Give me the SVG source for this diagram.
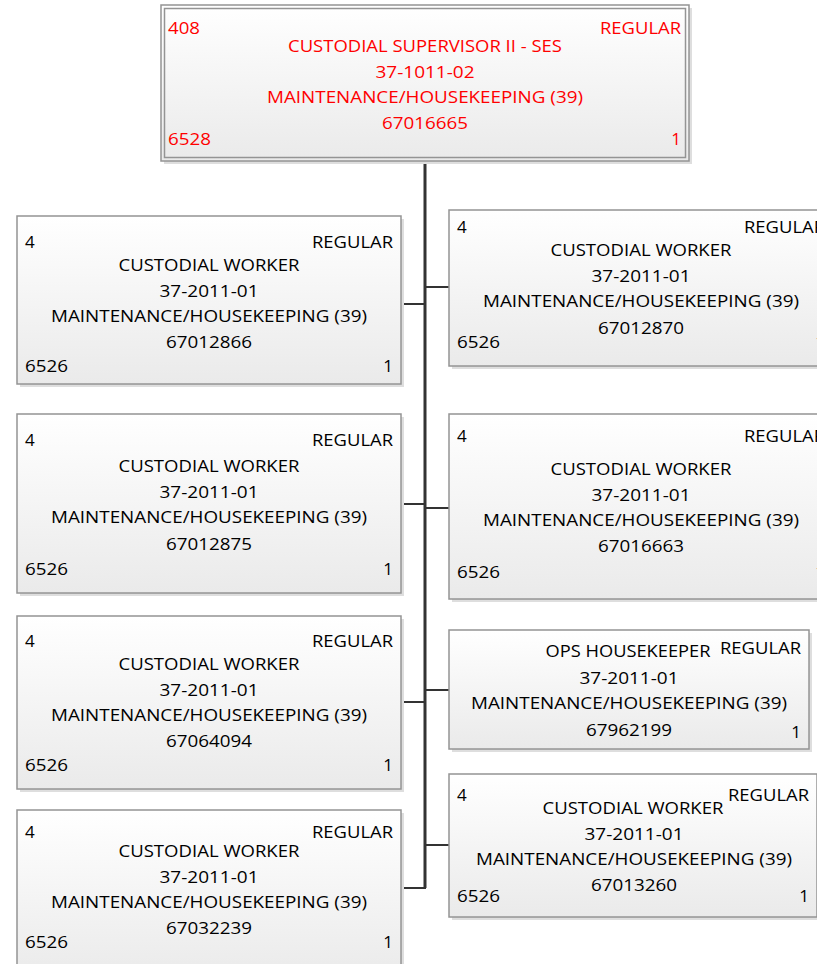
<svg xmlns="http://www.w3.org/2000/svg" width="817" height="964" viewBox="0 0 817 964">
  <defs>
    <linearGradient id="boxFill" x1="0" y1="0" x2="0" y2="1">
      <stop offset="0" stop-color="#ffffff"/>
      <stop offset="1" stop-color="#eaeaea"/>
    </linearGradient>
  </defs>
  <style>
    .shadow { fill: #dedede; }
    .box { fill: url(#boxFill); stroke: #949494; stroke-width: 1.5; }
    .inner { fill: none; stroke: #949494; stroke-width: 1.5; }
    .t { font-family: "Open Sans", "Liberation Sans", sans-serif; font-size: 17px; fill: #000; }
    .c { text-anchor: middle; }
    .r { text-anchor: end; }
    .red { fill: #ff0000; }
    .trunk { stroke: #333; stroke-width: 3; fill: none; }
    .branch { stroke: #333; stroke-width: 2; fill: none; }
  </style>

  <!-- connectors -->
  <g id="connectors">
    <path class="trunk" d="M425 161 V888"/>
    <path class="branch" d="M401 304 H425"/>
    <path class="branch" d="M401 504 H425"/>
    <path class="branch" d="M401 702 H425"/>
    <path class="branch" d="M401 888 H426"/>
    <path class="branch" d="M425 287 H449"/>
    <path class="branch" d="M425 508 H449"/>
    <path class="branch" d="M425 690 H449"/>
    <path class="branch" d="M425 845 H449"/>
  </g>

  <!-- supervisor -->
  <g id="node-67016665">
    <rect class="shadow" x="164" y="8" width="528" height="156"/>
    <rect class="box" x="161" y="5" width="528" height="156"/>
    <rect class="inner" x="164.5" y="8.5" width="521" height="149"/>
    <text class="t red" x="168" y="34" textLength="32" lengthAdjust="spacingAndGlyphs">408</text>
    <text class="t red r" x="681" y="34" textLength="81" lengthAdjust="spacingAndGlyphs">REGULAR</text>
    <text class="t red c" x="425" y="52" textLength="274" lengthAdjust="spacingAndGlyphs">CUSTODIAL SUPERVISOR II - SES</text>
    <text class="t red c" x="425" y="78" textLength="99" lengthAdjust="spacingAndGlyphs">37-1011-02</text>
    <text class="t red c" x="425" y="103" textLength="316" lengthAdjust="spacingAndGlyphs">MAINTENANCE/HOUSEKEEPING (39)</text>
    <text class="t red c" x="425" y="129" textLength="86" lengthAdjust="spacingAndGlyphs">67016665</text>
    <text class="t red" x="168" y="145" textLength="43" lengthAdjust="spacingAndGlyphs">6528</text>
    <text class="t red r" x="681" y="145">1</text>
  </g>

  <!-- left column -->
  <g id="node-67012866">
    <rect class="shadow" x="20" y="219" width="384" height="168"/>
    <rect class="box" x="17" y="216" width="384" height="168"/>
    <text class="t" x="25" y="248">4</text>
    <text class="t r" x="393" y="248" textLength="81" lengthAdjust="spacingAndGlyphs">REGULAR</text>
    <text class="t c" x="209" y="271" textLength="181" lengthAdjust="spacingAndGlyphs">CUSTODIAL WORKER</text>
    <text class="t c" x="209" y="297" textLength="99" lengthAdjust="spacingAndGlyphs">37-2011-01</text>
    <text class="t c" x="209" y="322" textLength="316" lengthAdjust="spacingAndGlyphs">MAINTENANCE/HOUSEKEEPING (39)</text>
    <text class="t c" x="209" y="348" textLength="86" lengthAdjust="spacingAndGlyphs">67012866</text>
    <text class="t" x="25" y="372" textLength="43" lengthAdjust="spacingAndGlyphs">6526</text>
    <text class="t r" x="393" y="372">1</text>
  </g>

  <g id="node-67012875">
    <rect class="shadow" x="20" y="417" width="384" height="179"/>
    <rect class="box" x="17" y="414" width="384" height="179"/>
    <text class="t" x="25" y="446">4</text>
    <text class="t r" x="393" y="446" textLength="81" lengthAdjust="spacingAndGlyphs">REGULAR</text>
    <text class="t c" x="209" y="472" textLength="181" lengthAdjust="spacingAndGlyphs">CUSTODIAL WORKER</text>
    <text class="t c" x="209" y="498" textLength="99" lengthAdjust="spacingAndGlyphs">37-2011-01</text>
    <text class="t c" x="209" y="523" textLength="316" lengthAdjust="spacingAndGlyphs">MAINTENANCE/HOUSEKEEPING (39)</text>
    <text class="t c" x="209" y="550" textLength="86" lengthAdjust="spacingAndGlyphs">67012875</text>
    <text class="t" x="25" y="575" textLength="43" lengthAdjust="spacingAndGlyphs">6526</text>
    <text class="t r" x="393" y="575">1</text>
  </g>

  <g id="node-67064094">
    <rect class="shadow" x="20" y="619" width="384" height="173"/>
    <rect class="box" x="17" y="616" width="384" height="173"/>
    <text class="t" x="25" y="647">4</text>
    <text class="t r" x="393" y="647" textLength="81" lengthAdjust="spacingAndGlyphs">REGULAR</text>
    <text class="t c" x="209" y="670" textLength="181" lengthAdjust="spacingAndGlyphs">CUSTODIAL WORKER</text>
    <text class="t c" x="209" y="696" textLength="99" lengthAdjust="spacingAndGlyphs">37-2011-01</text>
    <text class="t c" x="209" y="721" textLength="316" lengthAdjust="spacingAndGlyphs">MAINTENANCE/HOUSEKEEPING (39)</text>
    <text class="t c" x="209" y="747" textLength="86" lengthAdjust="spacingAndGlyphs">67064094</text>
    <text class="t" x="25" y="771" textLength="43" lengthAdjust="spacingAndGlyphs">6526</text>
    <text class="t r" x="393" y="771">1</text>
  </g>

  <g id="node-67032239">
    <rect class="shadow" x="20" y="813" width="384" height="170"/>
    <rect class="box" x="17" y="810" width="384" height="170"/>
    <text class="t" x="25" y="838">4</text>
    <text class="t r" x="393" y="838" textLength="81" lengthAdjust="spacingAndGlyphs">REGULAR</text>
    <text class="t c" x="209" y="857" textLength="181" lengthAdjust="spacingAndGlyphs">CUSTODIAL WORKER</text>
    <text class="t c" x="209" y="883" textLength="99" lengthAdjust="spacingAndGlyphs">37-2011-01</text>
    <text class="t c" x="209" y="908" textLength="316" lengthAdjust="spacingAndGlyphs">MAINTENANCE/HOUSEKEEPING (39)</text>
    <text class="t c" x="209" y="934" textLength="86" lengthAdjust="spacingAndGlyphs">67032239</text>
    <text class="t" x="25" y="948" textLength="43" lengthAdjust="spacingAndGlyphs">6526</text>
    <text class="t r" x="393" y="948">1</text>
  </g>

  <!-- right column -->
  <g id="node-67012870">
    <rect class="shadow" x="452" y="213" width="384" height="156"/>
    <rect class="box" x="449" y="210" width="384" height="156"/>
    <text class="t" x="457" y="233">4</text>
    <text class="t r" x="825" y="233" textLength="81" lengthAdjust="spacingAndGlyphs">REGULAR</text>
    <text class="t c" x="641" y="256" textLength="181" lengthAdjust="spacingAndGlyphs">CUSTODIAL WORKER</text>
    <text class="t c" x="641" y="282" textLength="99" lengthAdjust="spacingAndGlyphs">37-2011-01</text>
    <text class="t c" x="641" y="307" textLength="316" lengthAdjust="spacingAndGlyphs">MAINTENANCE/HOUSEKEEPING (39)</text>
    <text class="t c" x="641" y="334" textLength="86" lengthAdjust="spacingAndGlyphs">67012870</text>
    <text class="t" x="457" y="348" textLength="43" lengthAdjust="spacingAndGlyphs">6526</text>
    <text class="t r" x="825" y="348">1</text>
  </g>

  <g id="node-67016663">
    <rect class="shadow" x="452" y="417" width="384" height="185"/>
    <rect class="box" x="449" y="414" width="384" height="185"/>
    <text class="t" x="457" y="442">4</text>
    <text class="t r" x="825" y="442" textLength="81" lengthAdjust="spacingAndGlyphs">REGULAR</text>
    <text class="t c" x="641" y="475" textLength="181" lengthAdjust="spacingAndGlyphs">CUSTODIAL WORKER</text>
    <text class="t c" x="641" y="501" textLength="99" lengthAdjust="spacingAndGlyphs">37-2011-01</text>
    <text class="t c" x="641" y="526" textLength="316" lengthAdjust="spacingAndGlyphs">MAINTENANCE/HOUSEKEEPING (39)</text>
    <text class="t c" x="641" y="552" textLength="86" lengthAdjust="spacingAndGlyphs">67016663</text>
    <text class="t" x="457" y="578" textLength="43" lengthAdjust="spacingAndGlyphs">6526</text>
    <text class="t r" x="825" y="578">1</text>
  </g>

  <g id="node-67962199">
    <rect class="shadow" x="452" y="633" width="360" height="119"/>
    <rect class="box" x="449" y="630" width="360" height="119"/>
    <text class="t c" x="628" y="657" textLength="165" lengthAdjust="spacingAndGlyphs">OPS HOUSEKEEPER</text>
    <text class="t r" x="801" y="654" textLength="81" lengthAdjust="spacingAndGlyphs">REGULAR</text>
    <text class="t c" x="629" y="684" textLength="99" lengthAdjust="spacingAndGlyphs">37-2011-01</text>
    <text class="t c" x="629" y="709" textLength="316" lengthAdjust="spacingAndGlyphs">MAINTENANCE/HOUSEKEEPING (39)</text>
    <text class="t c" x="629" y="736" textLength="86" lengthAdjust="spacingAndGlyphs">67962199</text>
    <text class="t r" x="801" y="738">1</text>
  </g>

  <g id="node-67013260">
    <rect class="shadow" x="452" y="777" width="368" height="143"/>
    <rect class="box" x="449" y="774" width="368" height="143"/>
    <text class="t" x="457" y="801">4</text>
    <text class="t r" x="809" y="801" textLength="81" lengthAdjust="spacingAndGlyphs">REGULAR</text>
    <text class="t c" x="633" y="814" textLength="181" lengthAdjust="spacingAndGlyphs">CUSTODIAL WORKER</text>
    <text class="t c" x="634" y="840" textLength="99" lengthAdjust="spacingAndGlyphs">37-2011-01</text>
    <text class="t c" x="634" y="865" textLength="316" lengthAdjust="spacingAndGlyphs">MAINTENANCE/HOUSEKEEPING (39)</text>
    <text class="t c" x="634" y="891" textLength="86" lengthAdjust="spacingAndGlyphs">67013260</text>
    <text class="t" x="457" y="902" textLength="43" lengthAdjust="spacingAndGlyphs">6526</text>
    <text class="t r" x="809" y="902">1</text>
  </g>
</svg>
